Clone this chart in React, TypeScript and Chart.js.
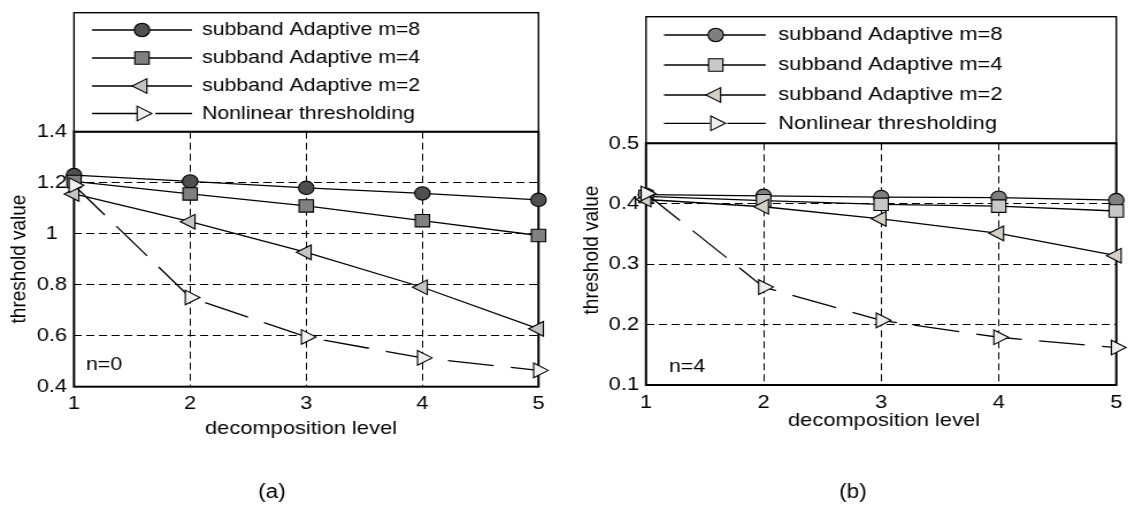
import React, { useEffect, useRef } from "react";
import { Chart, registerables } from "chart.js";

Chart.register(...registerables);

// ---------------- data ----------------
const levels = [1, 2, 3, 4, 5];
const seriesNames = [
  "subband Adaptive m=8",
  "subband Adaptive m=4",
  "subband Adaptive m=2",
  "Nonlinear thresholding",
];

// panel (a), n=0
const aM8 = [1.23, 1.205, 1.18, 1.158, 1.133];
const aM4 = [1.205, 1.156, 1.109, 1.051, 0.993];
const aM2 = [1.156, 1.047, 0.927, 0.79, 0.627];
const aNL = [1.19, 0.75, 0.595, 0.513, 0.464];

// panel (b), n=4
const bM8 = [0.415, 0.413, 0.411, 0.41, 0.406];
const bM4 = [0.412, 0.405, 0.399, 0.396, 0.388];
const bM2 = [0.407, 0.395, 0.375, 0.351, 0.314];
const bNL = [0.417, 0.262, 0.207, 0.179, 0.162];

const xTicks = [1, 2, 3, 4, 5];
const yTicksA = [0.4, 0.6, 0.8, 1, 1.2, 1.4];
const yTicksB = [0.1, 0.2, 0.3, 0.4, 0.5];

const xTitle = "decomposition level";
const yTitle = "threshold value";

// ---------------- styles ----------------
const S = 1.15; // horizontal stretch of the original figure
const FONT = "'Liberation Sans', Arial, Helvetica, sans-serif";
const NL_DASH = [40, 15];
const GRID_DASH = [7, 4];
const markerStyles = ["circle", "rect", "triangle", "triangle"];
const markerRot = [0, 0, -90, 90];
const markerRadius = [6.7, 8.8, 8.5, 8.5];

type Panel = {
  caption: string;
  note: string;
  series: number[][];
  fills: string[];
  yTicks: number[];
  yMin: number;
  yMax: number;
  left: number;
  width: number;
  plotL: number;
  plotR: number;
  plotT: number;
  plotB: number;
  legendTop: number;
  legendRows: number[];
  legendFont: number;
  sample: number[];
  textX: number;
  yTitleX: number;
  yTitleY: number;
  xTitleX: number;
  xTitleY: number;
  noteX: number;
  noteY: number;
  captionX: number;
  captionY: number;
};

const panelA: Panel = {
  caption: "(a)",
  note: "n=0",
  series: [aM8, aM4, aM2, aNL],
  fills: ["#4f4f4f", "#808080", "#c4c4c4", "#f0f0f0"],
  yTicks: yTicksA,
  yMin: 0.4,
  yMax: 1.4,
  left: 0,
  width: 560,
  plotL: 74,
  plotR: 538.5,
  plotT: 131.7,
  plotB: 386.7,
  legendTop: 12.7,
  legendRows: [30, 58, 86, 113.5],
  legendFont: 18.5,
  sample: [92, 142, 192],
  textX: 202,
  yTitleX: 19.7,
  yTitleY: 259,
  xTitleX: 301,
  xTitleY: 429,
  noteX: 86,
  noteY: 365,
  captionX: 272,
  captionY: 493,
};

const panelB: Panel = {
  caption: "(b)",
  note: "n=4",
  series: [bM8, bM4, bM2, bNL],
  fills: ["#7f7f7f", "#c8c8c8", "#d4d0c8", "#eeeeee"],
  yTicks: yTicksB,
  yMin: 0.1,
  yMax: 0.5,
  left: 560,
  width: 569,
  plotL: 646,
  plotR: 1124,
  plotT: 143.3,
  plotB: 385,
  legendTop: 16.7,
  legendRows: [35, 65, 95, 123.3],
  legendFont: 19,
  sample: [664, 715.7, 765.7],
  textX: 778.3,
  yTitleX: 592.5,
  yTitleY: 250,
  xTitleX: 884,
  xTitleY: 421,
  noteX: 669,
  noteY: 366.7,
  captionX: 853,
  captionY: 493,
};

function drawMarker(
  ctx: CanvasRenderingContext2D,
  style: string,
  x: number,
  y: number,
  r: number,
  rot: number,
  fill: string
) {
  ctx.save();
  ctx.setLineDash([]);
  ctx.fillStyle = fill;
  ctx.strokeStyle = "#000";
  ctx.lineWidth = 1.1;
  ctx.beginPath();
  if (style === "circle") {
    ctx.arc(x, y, r, 0, Math.PI * 2);
  } else if (style === "rect") {
    const h = r * Math.SQRT1_2;
    ctx.rect(x - h, y - h, 2 * h, 2 * h);
  } else {
    let rad = (rot * Math.PI) / 180;
    ctx.moveTo(x + Math.sin(rad) * r, y - Math.cos(rad) * r);
    rad += (2 * Math.PI) / 3;
    ctx.lineTo(x + Math.sin(rad) * r, y - Math.cos(rad) * r);
    rad += (2 * Math.PI) / 3;
    ctx.lineTo(x + Math.sin(rad) * r, y - Math.cos(rad) * r);
  }
  ctx.closePath();
  ctx.fill();
  ctx.stroke();
  ctx.restore();
}

function PanelChart({ p }: { p: Panel }) {
  const ref = useRef<HTMLCanvasElement>(null);
  const Wi = Math.round(p.width / S);
  const H = 515;

  useEffect(() => {
    if (!ref.current) return;
    const ix = (x: number) => (x - p.left) / S;
    const xAxisH = 50;

    const decor = {
      id: "matlabDecor",
      beforeDatasetsDraw(chart: any) {
        const ctx: CanvasRenderingContext2D = chart.ctx;
        const { left, right, top, bottom } = chart.chartArea;
        // legend box
        ctx.save();
        ctx.fillStyle = "#fff";
        ctx.fillRect(left, p.legendTop, right - left, top - p.legendTop);
        ctx.strokeStyle = "#000";
        ctx.lineWidth = 1.4;
        ctx.strokeRect(left, p.legendTop, right - left, top - p.legendTop);
        for (let i = 0; i < seriesNames.length; i++) {
          const y = p.legendRows[i];
          ctx.beginPath();
          ctx.setLineDash(i === 3 ? NL_DASH : []);
          ctx.lineWidth = 1.3;
          ctx.strokeStyle = "#000";
          ctx.moveTo(ix(p.sample[0]), y);
          ctx.lineTo(ix(p.sample[2]), y);
          ctx.stroke();
          ctx.setLineDash([]);
          drawMarker(ctx, markerStyles[i], ix(p.sample[1]), y, markerRadius[i], markerRot[i], p.fills[i]);
          ctx.fillStyle = "#000";
          ctx.font = `${p.legendFont}px ${FONT}`;
          ctx.textAlign = "left";
          ctx.textBaseline = "middle";
          ctx.fillText(seriesNames[i], ix(p.textX), y);
        }
        // axes box
        ctx.setLineDash([]);
        ctx.lineWidth = 2;
        ctx.strokeStyle = "#000";
        ctx.strokeRect(left, top, right - left, bottom - top);
        ctx.restore();
      },
      afterDraw(chart: any) {
        const ctx: CanvasRenderingContext2D = chart.ctx;
        ctx.save();
        ctx.fillStyle = "#000";
        ctx.textAlign = "center";
        ctx.textBaseline = "middle";
        ctx.font = `19px ${FONT}`;
        ctx.fillText(xTitle, ix(p.xTitleX), p.xTitleY);
        ctx.save();
        ctx.translate(ix(p.yTitleX), p.yTitleY);
        ctx.rotate(-Math.PI / 2);
        ctx.fillText(yTitle, 0, 0);
        ctx.restore();
        ctx.textAlign = "left";
        ctx.font = `18.5px ${FONT}`;
        ctx.fillText(p.note, ix(p.noteX), p.noteY);
        ctx.textAlign = "center";
        ctx.font = `19.5px ${FONT}`;
        ctx.fillText(p.caption, ix(p.captionX), p.captionY);
        ctx.restore();
      },
    };

    const chart = new Chart(ref.current, {
      type: "line",
      data: {
        datasets: p.series.map((vals, i) => ({
          label: seriesNames[i],
          data: levels.map((x, j) => ({ x, y: vals[j] })),
          borderColor: "#000",
          borderWidth: 1.3,
          borderDash: i === 3 ? NL_DASH : [],
          pointStyle: markerStyles[i] as any,
          pointRotation: markerRot[i],
          pointRadius: markerRadius[i],
          pointBackgroundColor: p.fills[i],
          pointBorderColor: "#000",
          pointBorderWidth: 1.1,
          tension: 0,
          fill: false,
          clip: false as any,
          order: 4 - i,
        })),
      },
      options: {
        animation: false,
        responsive: false,
        events: [],
        layout: {
          padding: {
            left: 0,
            top: p.plotT,
            right: Wi - ix(p.plotR),
            bottom: H - p.plotB - xAxisH,
          },
        },
        plugins: {
          legend: { display: false },
          tooltip: { enabled: false },
          title: { display: false },
        },
        scales: {
          x: {
            type: "linear",
            min: 1,
            max: 5,
            afterBuildTicks: (s: any) => {
              s.ticks = xTicks.map((v) => ({ value: v }));
            },
            afterFit: (s: any) => {
              s.height = xAxisH;
            },
            grid: { color: "#000", lineWidth: 1, drawTicks: false },
            border: { display: false, dash: GRID_DASH },
            ticks: {
              color: "#000",
              font: { family: FONT, size: 19 },
              padding: 6,
              maxRotation: 0,
              autoSkip: false,
              callback: (v: any) => String(v),
            },
          },
          y: {
            type: "linear",
            min: p.yMin,
            max: p.yMax,
            afterBuildTicks: (s: any) => {
              s.ticks = p.yTicks.map((v) => ({ value: v }));
            },
            afterFit: (s: any) => {
              s.width = ix(p.plotL);
            },
            grid: { color: "#000", lineWidth: 1, drawTicks: false },
            border: { display: false, dash: GRID_DASH },
            ticks: {
              color: "#000",
              font: { family: FONT, size: 19 },
              padding: 6,
              crossAlign: "center",
              autoSkip: false,
              callback: (v: any) => String(+Number(v).toFixed(2)),
            },
          },
        },
      } as any,
      plugins: [decor],
    });
    return () => chart.destroy();
  }, []);

  return (
    <canvas
      ref={ref}
      width={Wi}
      height={H}
      style={{
        position: "absolute",
        left: p.left,
        top: 0,
        transform: `scaleX(${S})`,
        transformOrigin: "0 0",
      }}
    />
  );
}

export default function App() {
  return (
    <div
      style={{
        position: "fixed",
        left: 0,
        top: 0,
        width: 1129,
        height: 515,
        background: "#fff",
        overflow: "hidden",
      }}
    >
      <PanelChart p={panelA} />
      <PanelChart p={panelB} />
    </div>
  );
}
